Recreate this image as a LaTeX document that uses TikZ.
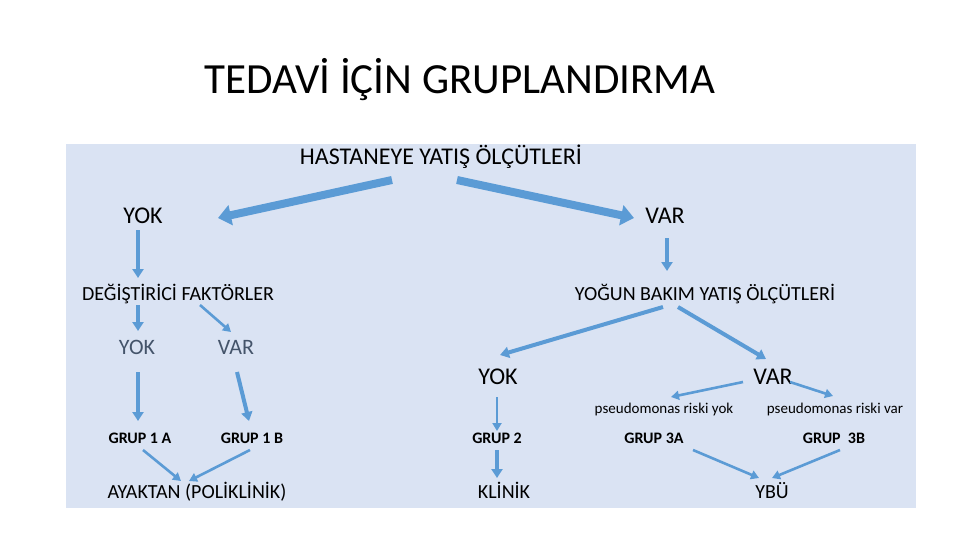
\documentclass[tikz,border=0pt]{standalone}
\usepackage{fontspec}
\setmainfont{Carlito}
\usetikzlibrary{arrows.meta}
\definecolor{bgblue}{HTML}{DAE3F3}
\definecolor{arrblue}{HTML}{5B9BD5}
\definecolor{txtgray}{HTML}{44546A}
\tikzset{
  lbl/.style={inner sep=0pt, anchor=base},
  bigarrow/.style={draw=arrblue, line width=8pt, -{Triangle[length=13pt,width=20pt]}},
  midarrow/.style={draw=arrblue, line width=4pt, -{Triangle[length=9pt,width=11pt]}},
  thinarrow/.style={draw=arrblue, line width=2.6pt, -{Triangle[length=8pt,width=9pt]}},
}
\begin{document}
\begin{tikzpicture}[x=1pt,y=-1pt]
\useasboundingbox (0,0) rectangle (960,540);
\fill[bgblue] (66,144) rectangle (916,508);

% texts (placed by baseline)
\node[lbl, font=\fontsize{43}{48}\selectfont] (title) at (460,94) {TEDAVİ İÇİN GRUPLANDIRMA};
\node[lbl, font=\fontsize{24}{28}\selectfont] (hast) at (441,164.7) {HASTANEYE YATIŞ ÖLÇÜTLERİ};
\node[lbl, font=\fontsize{24}{28}\selectfont] (yok1) at (143,223.7) {YOK};
\node[lbl, font=\fontsize{24}{28}\selectfont] (var1) at (665,223.7) {VAR};
\node[lbl, font=\fontsize{20}{24}\selectfont] (df) at (178,300.4) {DEĞİŞTİRİCİ FAKTÖRLER};
\node[lbl, font=\fontsize{20}{24}\selectfont] (ybk) at (705,300.4) {YOĞUN BAKIM YATIŞ ÖLÇÜTLERİ};
\node[lbl, text=txtgray, font=\fontsize{22}{26}\selectfont] (yok2) at (137,354) {YOK};
\node[lbl, text=txtgray, font=\fontsize{22}{26}\selectfont] (var2) at (236,354) {VAR};
\node[lbl, font=\bfseries\fontsize{16}{20}\selectfont] (g1a) at (140,443.1) {GRUP 1 A};
\node[lbl, font=\bfseries\fontsize{16}{20}\selectfont] (g1b) at (252,443.1) {GRUP 1 B};
\node[lbl, font=\fontsize{20}{24}\selectfont] (ay) at (197,498.4) {AYAKTAN (POLİKLİNİK)};
\node[lbl, font=\fontsize{24}{28}\selectfont] (yok3) at (498,384.7) {YOK};
\node[lbl, font=\fontsize{24}{28}\selectfont] (var3) at (773,384.7) {VAR};
\node[lbl, font=\fontsize{15}{18}\selectfont] (ps1) at (664,413.5) {pseudomonas riski yok};
\node[lbl, font=\fontsize{15}{18}\selectfont] (ps2) at (835,413.5) {pseudomonas riski var};
\node[lbl, font=\bfseries\fontsize{16}{20}\selectfont] (g2) at (497,443.1) {GRUP 2};
\node[lbl, font=\bfseries\fontsize{16}{20}\selectfont] (g3a) at (654,443.1) {GRUP 3A};
\node[lbl, font=\bfseries\fontsize{16}{20}\selectfont] (g3b) at (834,443.1) {GRUP\ \ 3B};
\node[lbl, font=\fontsize{20}{24}\selectfont] (kl) at (504,498.4) {KLİNİK};
\node[lbl, font=\fontsize{20}{24}\selectfont] (ybu) at (772,498.4) {YBÜ};

% arrow end points
\coordinate (h1s) at (392,180); \coordinate (h1e) at (218,218);
\coordinate (h2s) at (457,180); \coordinate (h2e) at (634,218);
\coordinate (y1s) at (138,230); \coordinate (y1e) at (138,278);
\coordinate (v1s) at (667,238); \coordinate (v1e) at (667,271);
\coordinate (d1s) at (138,305); \coordinate (d1e) at (138,331);
\coordinate (d2s) at (200,305); \coordinate (d2e) at (231,332);
\coordinate (y2s) at (138,372); \coordinate (y2e) at (138,421);
\coordinate (v2s) at (237,372); \coordinate (v2e) at (249,421);
\coordinate (aas) at (143,450); \coordinate (aae) at (181,481);
\coordinate (abs) at (250,450); \coordinate (abe) at (189,481);
\coordinate (b1s) at (663,307); \coordinate (b1e) at (500,355);
\coordinate (b2s) at (678,307); \coordinate (b2e) at (766,359);
\coordinate (y3s) at (497,397); \coordinate (y3e) at (497,431);
\coordinate (g2s) at (497,450); \coordinate (g2e) at (497,478);
\coordinate (p1s) at (743,382); \coordinate (p1e) at (671,397);
\coordinate (p2s) at (790,382); \coordinate (p2e) at (833,396);
\coordinate (c1s) at (693,450); \coordinate (c1e) at (759,478);
\coordinate (c2s) at (840,450); \coordinate (c2e) at (772,478);

% arrows
\draw[bigarrow] (h1s) -- (h1e);
\draw[bigarrow] (h2s) -- (h2e);
\draw[midarrow] (y1s) -- (y1e);
\draw[midarrow] (v1s) -- (v1e);
\draw[midarrow] (d1s) -- (d1e);
\draw[thinarrow] (d2s) -- (d2e);
\draw[midarrow] (y2s) -- (y2e);
\draw[midarrow] (v2s) -- (v2e);
\draw[thinarrow] (aas) -- (aae);
\draw[thinarrow] (abs) -- (abe);
\draw[midarrow] (b1s) -- (b1e);
\draw[midarrow] (b2s) -- (b2e);
\draw[thinarrow] (y3s) -- (y3e);
\draw[midarrow] (g2s) -- (g2e);
\draw[thinarrow] (p1s) -- (p1e);
\draw[thinarrow] (p2s) -- (p2e);
\draw[thinarrow] (c1s) -- (c1e);
\draw[thinarrow] (c2s) -- (c2e);
\end{tikzpicture}
\end{document}
